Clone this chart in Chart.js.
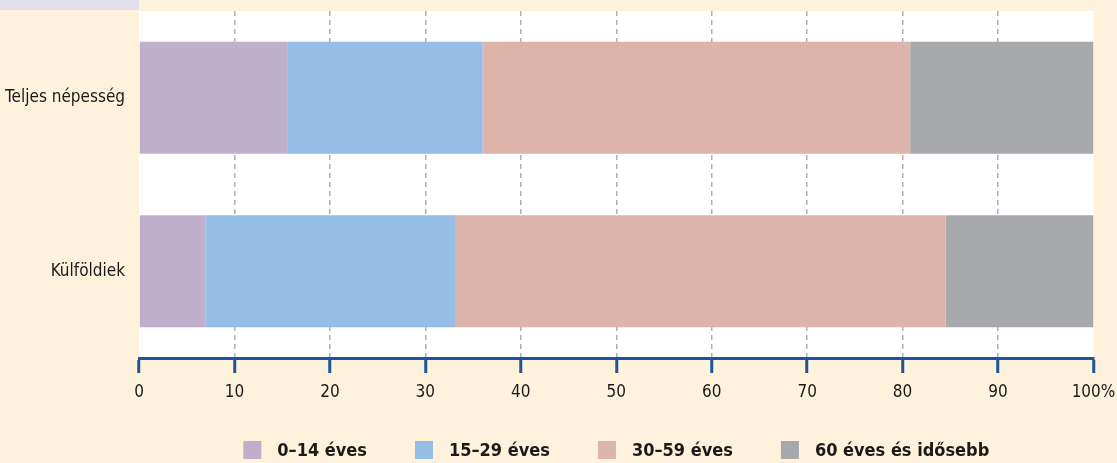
<!DOCTYPE html>
<html>
<head>
<meta charset="utf-8">
<script src="https://cdn.jsdelivr.net/npm/chart.js@4"></script>
<style>
  html, body { margin: 0; padding: 0; background: #fff2dc; }
  #wrap { width: 1117px; height: 463px; position: relative; }
</style>
</head>
<body>
<div id="wrap"><canvas id="chart"></canvas></div>
<script>
// kategóriák és korcsoportok (%)
const categories = ["Teljes népesség", "Külföldiek"];
const groups = ["0–14 éves", "15–29 éves", "30–59 éves", "60 éves és idősebb"];
const age0_14 = [15.6, 7.0];
const age15_29 = [20.4, 26.2];
const age30_59 = [44.8, 51.3];
const age60plus = [19.2, 15.5];
const tickValues = [0, 10, 20, 30, 40, 50, 60, 70, 80, 90, 100];

const colors = ["#bfafcb", "#95bde5", "#ddb4aa", "#a8a9ad"];
const FONT = "'Liberation Sans Narrow', 'DejaVu Sans Condensed', 'Roboto', sans-serif";
const AXIS_BLUE = "#1f5596";

// háttér: fehér rajzterület + lila csík bal fent
const bgPlugin = {
  id: 'bg',
  beforeDraw(chart) {
    const { ctx, chartArea: a } = chart;
    ctx.save();
    ctx.fillStyle = "#e3deeb";
    ctx.fillRect(0, 0, a.left, a.top - 1);
    ctx.fillStyle = "#ffffff";
    ctx.fillRect(a.left, a.top, a.right - a.left, a.bottom - a.top);
    ctx.restore();
  }
};

// jelmagyarázat a rajzterület alatt, középre igazítva
const legendPlugin = {
  id: 'legendBottom',
  afterDraw(chart) {
    const { ctx, chartArea: a } = chart;
    const box = 18, gapText = 16, gapItem = 48, y = 441;
    ctx.save();
    ctx.font = "bold 18px " + FONT;
    const items = chart.data.datasets.map(ds => ({
      text: ds.label, color: ds.backgroundColor, w: ctx.measureText(ds.label).width
    }));
    const total = items.reduce((s, it) => s + box + gapText + it.w, 0) + gapItem * (items.length - 1);
    let x = (a.left + a.right) / 2 - total / 2;
    ctx.textBaseline = "middle";
    items.forEach(it => {
      ctx.fillStyle = it.color;
      ctx.fillRect(x, y, box, box);
      ctx.fillStyle = "#1a1a1a";
      ctx.fillText(it.text, x + box + gapText, y + box / 2 + 1);
      x += box + gapText + it.w + gapItem;
    });
    ctx.restore();
  }
};

const seriesValues = [age0_14, age15_29, age30_59, age60plus];

new Chart(document.getElementById("chart"), {
  type: "bar",
  data: {
    labels: categories,
    datasets: groups.map((g, i) => ({
      label: g,
      data: seriesValues[i],
      backgroundColor: colors[i],
      borderWidth: 0,
      barPercentage: 0.645,
      categoryPercentage: 1
    }))
  },
  options: {
    indexAxis: "y",
    responsive: true,
    maintainAspectRatio: false,
    animation: false,
    layout: { padding: { top: 11, right: 23.5, left: 0, bottom: 55 } },
    plugins: {
      tooltip: { enabled: false },
      legend: { display: false }
    },
    scales: {
      x: {
        stacked: true,
        min: 0,
        max: 100,
        afterBuildTicks(scale) {
          scale.ticks = tickValues.map(v => ({ value: v }));
        },
        afterFit(scale) {
          scale.height = 50;
          scale.paddingLeft = 0;
          scale.paddingRight = 0;
        },
        border: { display: true, color: AXIS_BLUE, width: 3, dash: [5, 4] },
        grid: {
          color: ctx => (ctx.tick && (ctx.tick.value === 0 || ctx.tick.value === 100)) ? "rgba(0,0,0,0)" : "#b0b0b0",
          lineWidth: 1.5,
          tickColor: AXIS_BLUE,
          tickWidth: 3,
          tickLength: 15,
          tickBorderDash: []
        },
        ticks: {
          color: "#1a1a1a",
          font: { family: FONT, size: 17 },
          padding: 9,
          maxRotation: 0,
          callback: v => v === 100 ? "100%" : String(v)
        }
      },
      y: {
        stacked: true,
        afterFit(scale) {
          scale.width = 139;
          scale.paddingTop = 0;
          scale.paddingBottom = 0;
        },
        grid: { display: false, drawTicks: false },
        border: { display: false },
        ticks: {
          color: "#1a1a1a",
          font: { family: FONT, size: 17 },
          padding: 14
        }
      }
    }
  },
  plugins: [bgPlugin, legendPlugin]
});
</script>
</body>
</html>
